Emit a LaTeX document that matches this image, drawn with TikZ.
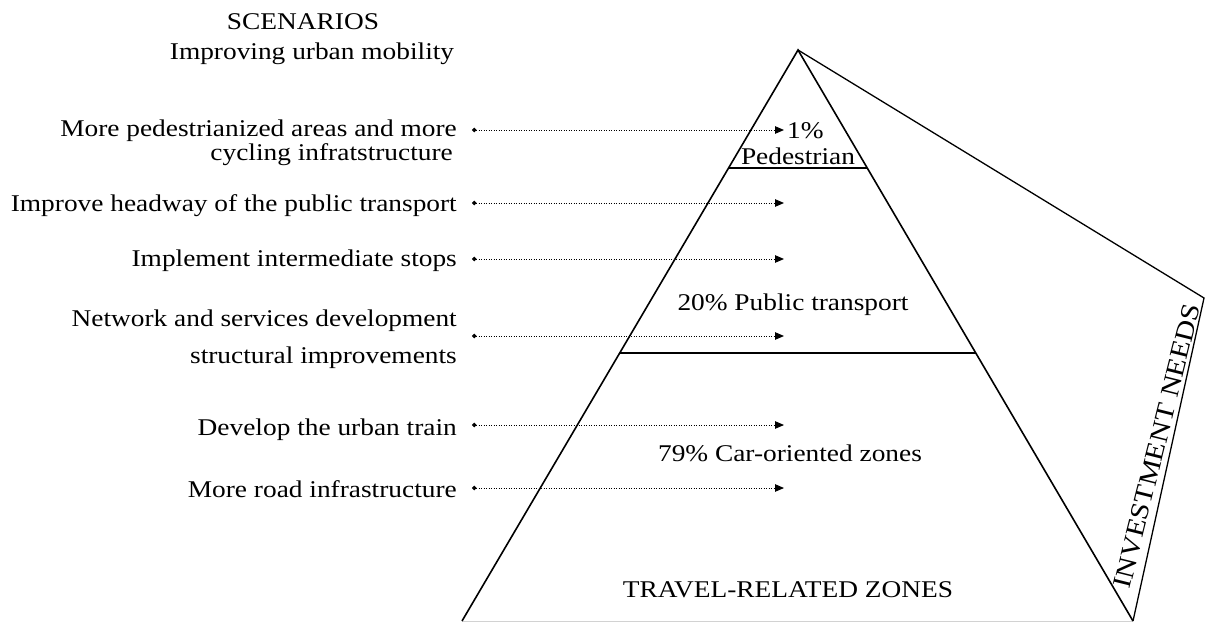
\documentclass[tikz,border=0pt]{standalone}
\usepackage{fontspec}
\setmainfont{Liberation Serif}[FakeStretch=1.14]
\usetikzlibrary{arrows.meta,calc}
\begin{document}
\begin{tikzpicture}[x=1pt,y=-1pt,
  lbl/.style={inner sep=0pt,font=\fontsize{24}{26}\selectfont},
  rowtext/.style={lbl,anchor=base east},
  edge/.style={line width=1.6pt,line join=miter},
  thinedge/.style={line width=1.3pt},
  scen/.style={line width=1pt,dash pattern=on 1.2pt off 1.3pt,
    {Circle[length=4.5pt,sep=0pt]}-{Triangle[length=9pt,width=7.5pt]}}]
\useasboundingbox (0,0) rectangle (1206,623);
% pyramid
\coordinate (A) at (798,50);
\coordinate (BL) at (462,621);
\coordinate (BR) at (1133,621);
\coordinate (R) at (1204,298);
\draw[gray!35,line width=1pt] (BL) -- (BR);
\draw[edge] (BL) -- (A) -- (BR);
\draw[thinedge] (A) -- (R) -- (BR);
\draw[edge] ($(A)!0.2067!(BL)$) coordinate (p1l) -- ($(A)!0.2067!(BR)$) coordinate (p1r);
\draw[edge] ($(A)!0.5306!(BL)$) coordinate (p2l) -- ($(A)!0.5306!(BR)$) coordinate (p2r);
% headings
\node[lbl,anchor=base] (h1) at (303,30) {SCENARIOS};
\node[lbl,anchor=base] (h2) at (312,60) {Improving urban mobility};
% rows
\node[rowtext] (r1a) at (457,136) {More pedestrianized areas and more};
\node[rowtext] (r1b) at (453,160) {cycling infratstructure};
\node[rowtext] (r2) at (457,211) {Improve headway of the public transport};
\node[rowtext] (r3) at (457,266) {Implement intermediate stops};
\node[rowtext] (r4a) at (457,326) {Network and services development};
\node[rowtext] (r4b) at (457,363) {structural improvements};
\node[rowtext] (r5) at (457,435) {Develop the urban train};
\node[rowtext] (r6) at (457,497) {More road infrastructure};
% pyramid labels
\node[lbl,anchor=base west] (l1) at (787,139) {1\%};
\node[lbl,anchor=base] (l1b) at (798,164) {Pedestrian};
\node[lbl,anchor=base] (l2) at (793,310) {20\% Public transport};
\node[lbl,anchor=base] (l3) at (790,461) {79\% Car-oriented zones};
\node[lbl,anchor=base] (l4) at (788,597) {TRAVEL-RELATED ZONES};
\node[inner sep=0pt,font=\fontsize{26}{28}\selectfont,rotate=76] (inv) at (1157,446) {INVESTMENT NEEDS};
% arrows
\foreach \n/\y in {1/130,2/203,3/259,4/336,5/425,6/488}{
  \coordinate (s\n) at (472,\y);
  \coordinate (e\n) at (784,\y);
  \draw[scen] (s\n) -- (e\n);
}
\end{tikzpicture}
\end{document}
